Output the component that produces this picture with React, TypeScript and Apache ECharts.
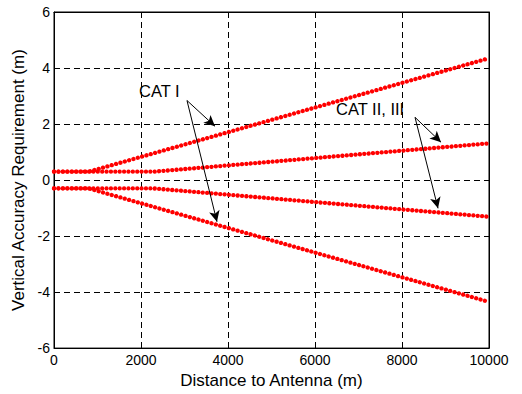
import React, { useEffect, useRef } from "react";
import * as echarts from "echarts";

// Breakpoints (distance in m, requirement in m)
const catIDistance = [0, 800, 10000];
const catIUpper = [0.3, 0.3, 4.35];
const catILower = [-0.3, -0.3, -4.35];
const catIIDistance = [0, 2300, 10000];
const catIIUpper = [0.3, 0.3, 1.31];
const catIILower = [-0.3, -0.3, -1.31];

const xTicks = [0, 2000, 4000, 6000, 8000, 10000];
const yTicks = [-6, -4, -2, 0, 2, 4, 6];

// Annotation arrows (data coordinates)
const catIArrowStart = [3057, 2.84];
const catIArrowEnds = [[3701, 1.92], [3747, -1.49]];
const catIIArrowStart = [8299, 2.24];
const catIIArrowEnds = [[8897, 1.35], [8828, -1.01]];

const FONT = "'Liberation Sans', Arial, sans-serif";

function pairs(xs: number[], ys: number[]) {
  return xs.map((x, i) => [x, ys[i]]);
}

export default function App() {
  const ref = useRef<HTMLDivElement>(null);
  useEffect(() => {
    if (!ref.current) return;
    const chart = echarts.init(ref.current, undefined, { renderer: "svg" });
    const dotLine = (spacing: number) => ({
      color: "#ff0000",
      width: 4.3,
      type: [0.01, spacing],
      cap: "round",
    });
    const arrows = [
      ...catIArrowEnds.map((e) => [{ coord: catIArrowStart }, { coord: e }]),
      ...catIIArrowEnds.map((e) => [{ coord: catIIArrowStart }, { coord: e }]),
    ];
    const axisCommon = {
      min: 0,
      max: 10000,
      interval: 2000,
    };
    const option: any = {
      animation: false,
      textStyle: { fontFamily: FONT },
      grid: {
        left: 54,
        right: 33,
        top: 12,
        bottom: 44,
        show: true,
        borderColor: "#000",
        borderWidth: 1,
        backgroundColor: "#fff",
      },
      xAxis: [
        {
          type: "value",
          ...axisCommon,
          position: "bottom",
          name: "Distance to Antenna (m)",
          nameLocation: "middle",
          nameGap: 21,
          nameTextStyle: { fontSize: 17, color: "#000", fontFamily: FONT },
          axisLine: { show: true, onZero: false, lineStyle: { color: "#000" } },
          axisTick: { show: true, inside: true, length: 4, lineStyle: { color: "#000" } },
          axisLabel: {
            color: "#000",
            fontSize: 14,
            margin: 5,
            fontFamily: FONT,
            showMinLabel: true,
            showMaxLabel: true,
            formatter: (v: number) => (xTicks.includes(v) ? String(v) : ""),
          },
          splitLine: { show: true, lineStyle: { color: "#000", type: [6, 4], width: 1 } },
        },
        {
          type: "value",
          ...axisCommon,
          position: "top",
          axisLine: { show: true, onZero: false, lineStyle: { color: "#000" } },
          axisTick: { show: true, inside: true, length: 4, lineStyle: { color: "#000" } },
          axisLabel: { show: false },
          splitLine: { show: false },
        },
      ],
      yAxis: [
        {
          type: "value",
          min: -6,
          max: 6,
          interval: 2,
          position: "left",
          name: "Vertical Accuracy Requirement (m)",
          nameLocation: "middle",
          nameGap: 22,
          nameTextStyle: { fontSize: 17, color: "#000", fontFamily: FONT },
          axisLine: { show: true, onZero: false, lineStyle: { color: "#000" } },
          axisTick: { show: true, inside: true, length: 4, lineStyle: { color: "#000" } },
          axisLabel: {
            color: "#000",
            fontSize: 14,
            margin: 4,
            fontFamily: FONT,
            formatter: (v: number) => (yTicks.includes(v) ? String(v) : ""),
          },
          splitLine: { show: true, lineStyle: { color: "#000", type: [6, 4], width: 1 } },
        },
        {
          type: "value",
          min: -6,
          max: 6,
          interval: 2,
          position: "right",
          axisLine: { show: true, onZero: false, lineStyle: { color: "#000" } },
          axisTick: { show: true, inside: true, length: 4, lineStyle: { color: "#000" } },
          axisLabel: { show: false },
          splitLine: { show: false },
        },
      ],
      series: [
        {
          type: "line",
          name: "CAT I upper",
          data: pairs(catIDistance, catIUpper),
          showSymbol: false,
          symbol: "none",
          lineStyle: dotLine(4.5),
          silent: true,
        },
        {
          type: "line",
          name: "CAT I lower",
          data: pairs(catIDistance, catILower),
          showSymbol: false,
          symbol: "none",
          lineStyle: dotLine(4.5),
          silent: true,
        },
        {
          type: "line",
          name: "CAT II upper",
          data: pairs(catIIDistance, catIIUpper),
          showSymbol: false,
          symbol: "none",
          lineStyle: dotLine(4.37),
          silent: true,
        },
        {
          type: "line",
          name: "CAT II lower",
          data: pairs(catIIDistance, catIILower),
          showSymbol: false,
          symbol: "none",
          lineStyle: dotLine(4.37),
          silent: true,
          markLine: {
            silent: true,
            symbol: ["none", "arrow"],
            symbolSize: [8, 11],
            label: { show: false },
            lineStyle: { color: "#000", width: 1, type: "solid" },
            emphasis: { disabled: true },
            data: arrows,
          },
        },
      ],
      graphic: [
        {
          type: "text",
          left: 139,
          top: 82,
          style: { text: "CAT I", fontSize: 16.5, fontFamily: FONT, fill: "#000" },
        },
        {
          type: "text",
          left: 336,
          top: 100,
          style: { text: "CAT II, III", fontSize: 16.5, fontFamily: FONT, fill: "#000" },
        },
      ],
    };
    chart.setOption(option);
    return () => chart.dispose();
  }, []);
  return <div ref={ref} style={{ width: 522, height: 394, position: "absolute", left: 0, top: 0 }} />;
}
